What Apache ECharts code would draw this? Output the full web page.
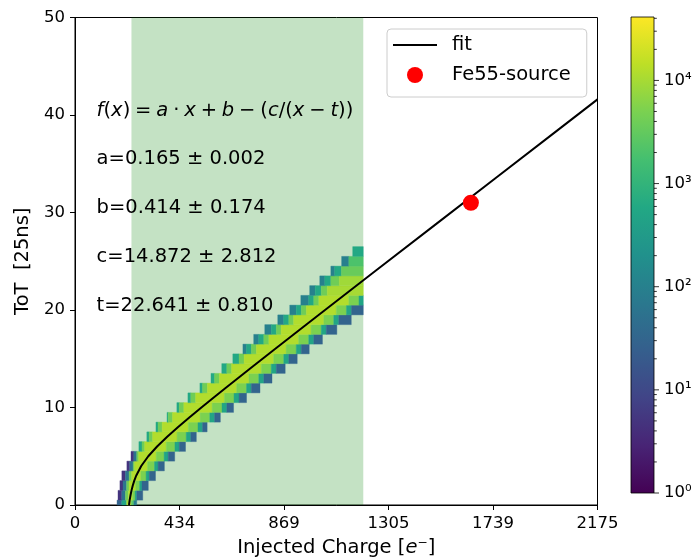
<!DOCTYPE html>
<html>
<head>
<meta charset="utf-8">
<script src="https://cdn.jsdelivr.net/npm/echarts@6/dist/echarts.min.js"></script>
<style>
html, body { margin: 0; padding: 0; background: #fff; }
#chart { width: 700px; height: 557px; }
</style>
</head>
<body>
<div id="chart"></div>
<script>
// ToT bins of the 2D histogram (each bin is 1 ToT high, centred on the value)
var totRows = [0, 1, 2, 3, 4, 5, 6, 7, 8, 9, 10, 11, 12, 13, 14, 15, 16, 17, 18, 19, 20, 21, 22, 23, 24, 25, 26];
// for every ToT bin: segment edges along x [e-] and the hit count of each segment
var rowEdges = [
  [175, 195, 215, 235, 245, 257],
  [179, 195, 210, 222, 240, 250, 257, 282],
  [187, 200, 215, 225, 253, 269, 279, 305],
  [195, 210, 225, 236, 274, 296, 309, 335],
  [216, 228, 242, 248, 302, 331, 346, 372],
  [233, 245, 257, 265, 338, 371, 388, 415],
  [266, 279, 290, 380, 416, 434, 460],
  [299, 309, 323, 425, 463, 482, 505],
  [337, 346, 363, 472, 512, 531, 550],
  [383, 388, 406, 521, 561, 581, 605],
  [424, 434, 453, 571, 612, 632, 660],
  [470, 482, 502, 622, 662, 683, 714],
  [520, 531, 551, 673, 714, 734, 770],
  [566, 581, 601, 724, 765, 786, 820],
  [611, 632, 652, 776, 817, 838, 875],
  [657, 683, 704, 827, 869, 890, 925],
  [699, 714, 734, 755, 879, 921, 942, 975],
  [744, 765, 786, 807, 931, 973, 994, 1030],
  [790, 817, 838, 858, 983, 1025, 1046, 1090],
  [844, 869, 890, 910, 1036, 1077, 1098, 1150],
  [894, 921, 942, 963, 1088, 1130, 1151, 1200],
  [940, 973, 994, 1015, 1140, 1182, 1200],
  [977, 1000, 1025, 1050, 1200],
  [1019, 1040, 1065, 1100, 1200],
  [1065, 1081, 1109, 1200],
  [1110, 1140, 1200],
  [1156, 1200]
];
var rowCounts = [
  [30, 500, 10000, 2500, 80],
  [5, 60, 4000, 12000, 5000, 500, 30],
  [5, 60, 4000, 12000, 5000, 500, 30],
  [5, 60, 4000, 12000, 5000, 500, 30],
  [5, 60, 4000, 12000, 5000, 500, 30],
  [5, 60, 4000, 12000, 5000, 500, 30],
  [600, 4000, 12000, 5000, 500, 30],
  [600, 4000, 12000, 5000, 500, 30],
  [600, 4000, 12000, 5000, 500, 30],
  [600, 4000, 12000, 5000, 500, 30],
  [600, 4000, 12000, 5000, 500, 30],
  [600, 4000, 12000, 5000, 500, 30],
  [600, 4000, 12000, 5000, 500, 30],
  [600, 4000, 12000, 5000, 500, 30],
  [600, 4000, 12000, 5000, 500, 30],
  [600, 4000, 12000, 5000, 500, 30],
  [100, 600, 4000, 12000, 5000, 500, 30],
  [100, 600, 4000, 12000, 5000, 500, 30],
  [100, 600, 4000, 12000, 5000, 500, 30],
  [100, 600, 4000, 12000, 5000, 500, 30],
  [100, 600, 4000, 12000, 5000, 500, 30],
  [100, 600, 4000, 12000, 5000, 500],
  [100, 600, 4000, 10000],
  [100, 600, 4000, 9000],
  [100, 600, 3500],
  [100, 2000],
  [600]
];

// fit curve
var fitX = [224.7, 227.5, 231.1, 235.3, 240.5, 246.8, 254.6, 275.7, 305, 341.7, 383.8, 429.3, 477.1, 526.2, 576.2, 626.8, 729.2, 832.5, 936.5, 1040.8, 1145.4, 1250, 1500, 1750, 2000, 2175];
var fitY = [0, 0.5, 1, 1.5, 2, 2.5, 3, 4, 5, 6, 7, 8, 9, 10, 11, 12, 14, 16, 18, 20, 22, 24, 28.76, 33.52, 38.27, 41.6];

var fe55Point = [1648, 31];
var shadeRange = [235, 1200];

var xTickLabels = ['0', '434', '869', '1305', '1739', '2175'];
var cbMax = 41200;
var cbLabels = ['10\u2070', '10\u00b9', '10\u00b2', '10\u00b3', '10\u2074'];
var cbMajor = [1, 10, 100, 1000, 10000];
var cbMinor = [2, 3, 4, 5, 6, 7, 8, 9, 20, 30, 40, 50, 60, 70, 80, 90, 200, 300, 400, 500, 600, 700, 800, 900,
  2000, 3000, 4000, 5000, 6000, 7000, 8000, 9000, 20000, 30000, 40000];

var annotX = 90;
var annotY = [40, 35, 30, 25, 20];
var annotText = [
  '{i|f}({i|x})\u2005=\u2005{i|a}\u2005\u00b7\u2005{i|x}\u2005+\u2005{i|b}\u2005\u2212\u2005({i|c}/({i|x}\u2005\u2212\u2005{i|t}))',
  'a=0.165 \u00b1 0.002',
  'b=0.414 \u00b1 0.174',
  'c=14.872 \u00b1 2.812',
  't=22.641 \u00b1 0.810'
];

var viridis = ['#440154', '#482475', '#414487', '#355f8d', '#2a788e', '#21918c', '#22a884', '#44bf70', '#7ad151', '#bddf26', '#fde725'];
var FONT = 'DejaVu Sans';

var cells = [];
totRows.forEach(function (tot, r) {
  var e = rowEdges[r], c = rowCounts[r];
  for (var i = 0; i < c.length; i++) {
    cells.push([e[i], e[i + 1], tot, c[i], Math.log10(c[i])]);
  }
});
var fitData = fitX.map(function (x, i) { return [x, fitY[i]]; });
var annotData = annotY.map(function (y, i) { return [annotX, y, i]; });
var cbTicks = cbMajor.map(function (v) { return [v, 5]; }).concat(cbMinor.map(function (v) { return [v, 2.8]; }));

function gridRect(params) {
  var cs = params.coordSys;
  return { x: cs.x, y: cs.y, width: cs.width, height: cs.height };
}

function renderCell(params, api) {
  var p0 = api.coord([api.value(0), api.value(2) + 0.5]);
  var p1 = api.coord([api.value(1), api.value(2) - 0.5]);
  var rect = echarts.graphic.clipRectByRect({
    x: p0[0], y: p0[1], width: p1[0] - p0[0], height: p1[1] - p0[1]
  }, gridRect(params));
  if (!rect) return;
  var col = api.visual('color');
  return { type: 'rect', shape: rect, style: { fill: col, stroke: col, lineWidth: 0.4 } };
}

function renderShade(params, api) {
  var cs = params.coordSys;
  var a = api.coord([api.value(0), 0]);
  var b = api.coord([api.value(1), 0]);
  return { type: 'rect', shape: { x: a[0], y: cs.y, width: b[0] - a[0], height: cs.height },
    style: { fill: 'rgba(0,128,0,0.23)' } };
}

function renderText(params, api) {
  var p = api.coord([api.value(0), api.value(1)]);
  return {
    type: 'text', x: p[0], y: p[1] - 4.5,
    style: {
      text: annotText[api.value(2)], fill: '#000', fontFamily: FONT, fontSize: 19.5,
      verticalAlign: 'middle', align: 'left',
      rich: { i: { fontFamily: FONT, fontSize: 19.5, fontStyle: 'italic' } }
    }
  };
}

function renderColorbar(params, api) {
  var p0 = api.coord([0, api.value(2)]);
  var p1 = api.coord([1, api.value(1)]);
  var stops = viridis.map(function (c, i) { return { offset: i / (viridis.length - 1), color: c }; });
  return {
    type: 'rect',
    shape: { x: p0[0], y: p0[1], width: p1[0] - p0[0], height: p1[1] - p0[1] },
    style: { fill: new echarts.graphic.LinearGradient(0, 1, 0, 0, stops), stroke: '#000', lineWidth: 0.8 }
  };
}

function renderCbTick(params, api) {
  var p = api.coord([1, api.value(0)]);
  return { type: 'line', shape: { x1: p[0], y1: p[1], x2: p[0] + api.value(1), y2: p[1] },
    style: { stroke: '#000', lineWidth: 0.8 } };
}

var myChart = echarts.init(document.getElementById('chart'));
myChart.setOption({
  animation: false,
  textStyle: { fontFamily: FONT },
  grid: [
    { left: 75, right: 102.5, top: 17.5, bottom: 52, outerBoundsMode: 'none',
      show: true, borderColor: '#000', borderWidth: 1 },
    { left: 631, width: 23, top: 17, height: 476, outerBoundsMode: 'none' }
  ],
  legend: {
    left: 387, top: 29, orient: 'vertical',
    itemWidth: 44, itemHeight: 16, itemGap: 10,
    padding: [6, 16, 12, 6],
    backgroundColor: 'rgba(255,255,255,0.8)', borderColor: '#cccccc', borderWidth: 1, borderRadius: 4,
    textStyle: { fontFamily: FONT, fontSize: 19.5, color: '#000', lineHeight: 20, padding: [0, 0, 0, 10] },
    data: [
      { name: 'fit', icon: 'path://M0,0 L44,0 L44,2 L0,2 Z', itemStyle: { color: '#000' } },
      { name: 'Fe55-source', icon: 'circle' }
    ]
  },
  visualMap: {
    show: false, type: 'continuous', seriesIndex: 0, dimension: 4,
    min: 0, max: Math.log10(cbMax), inRange: { color: viridis }
  },
  xAxis: [
    {
      type: 'value', gridIndex: 0, min: 0, max: 2175, interval: 435,
      name: 'Injected Charge [{i|e}\u207b]', nameLocation: 'middle', nameGap: 33,
      nameTextStyle: { fontFamily: FONT, fontSize: 19.5, color: '#000',
        rich: { i: { fontFamily: FONT, fontSize: 19.5, fontStyle: 'italic', color: '#000' } } },
      axisLine: { lineStyle: { color: '#000', width: 1 } },
      axisTick: { length: 5, lineStyle: { color: '#000' } },
      axisLabel: { fontFamily: FONT, fontSize: 16.5, color: '#000', margin: 10,
        formatter: function (v) { return xTickLabels[Math.round(v / 435)]; } },
      splitLine: { show: false }
    },
    { type: 'value', gridIndex: 1, min: 0, max: 1, show: false }
  ],
  yAxis: [
    {
      type: 'value', gridIndex: 0, min: 0, max: 50, interval: 10,
      name: 'ToT  [25ns]', nameLocation: 'middle', nameGap: 35,
      nameTextStyle: { fontFamily: FONT, fontSize: 19.5, color: '#000' },
      axisLine: { show: true, lineStyle: { color: '#000', width: 1 } },
      axisTick: { show: true, length: 5, lineStyle: { color: '#000' } },
      axisLabel: { fontFamily: FONT, fontSize: 16.5, color: '#000', margin: 10 },
      splitLine: { show: false }
    },
    {
      type: 'log', logBase: 10, gridIndex: 1, min: 1, max: cbMax, position: 'right',
      axisLine: { show: false }, axisTick: { show: false }, splitLine: { show: false },
      axisLabel: {
        fontFamily: FONT, fontSize: 16.5, color: '#000', margin: 10, showMaxLabel: false,
        formatter: function (v) {
          var l = Math.log10(v), k = Math.round(l);
          return Math.abs(l - k) < 0.01 && cbLabels[k] ? cbLabels[k] : '';
        }
      }
    }
  ],
  series: [
    {
      type: 'custom', name: 'hist', xAxisIndex: 0, yAxisIndex: 0, z: 3,
      renderItem: renderCell, encode: { x: [0, 1], y: 2 }, data: cells
    },
    {
      type: 'custom', name: 'shade', xAxisIndex: 0, yAxisIndex: 0, z: 2,
      renderItem: renderShade, encode: { x: [0, 1] }, data: [shadeRange]
    },
    {
      type: 'line', name: 'fit', xAxisIndex: 0, yAxisIndex: 0, z: 5,
      data: fitData, symbol: 'none', showSymbol: false, smooth: false,
      lineStyle: { color: '#000', width: 2 }, itemStyle: { color: '#000' }
    },
    {
      type: 'scatter', name: 'Fe55-source', xAxisIndex: 0, yAxisIndex: 0, z: 6,
      data: [fe55Point], symbolSize: 16, itemStyle: { color: '#ff0000', opacity: 1 }
    },
    {
      type: 'custom', name: 'notes', xAxisIndex: 0, yAxisIndex: 0, z: 7,
      renderItem: renderText, encode: { x: 0, y: 1 }, data: annotData
    },
    {
      type: 'custom', name: 'colorbar', xAxisIndex: 1, yAxisIndex: 1, z: 2,
      renderItem: renderColorbar, encode: { x: 0, y: [1, 2] }, data: [[0, 1, cbMax]]
    },
    {
      type: 'custom', name: 'cbticks', xAxisIndex: 1, yAxisIndex: 1, z: 3,
      renderItem: renderCbTick, encode: { y: 0 }, data: cbTicks
    }
  ]
});
</script>
</body>
</html>
